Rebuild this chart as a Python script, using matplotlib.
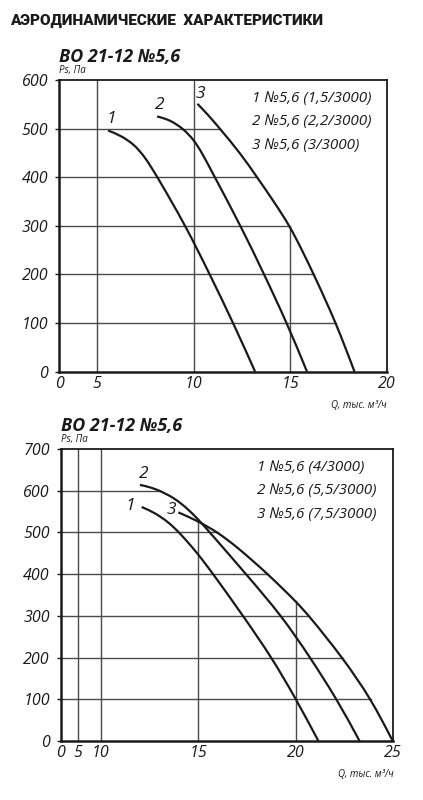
import numpy as np
import matplotlib
matplotlib.use("Agg")
import matplotlib.pyplot as plt
from matplotlib.path import Path
from matplotlib.patches import PathPatch

plt.rcParams['font.family'] = ['Open Sans', 'DejaVu Sans']

# --- data ------------------------------------------------------------------
# upper chart: Q (thousand m3/h) vs Ps (Pa)
top_q1 = [5.56, 6.2, 6.9, 7.5, 8.12, 9.58, 10.83, 12.05, 13.18]
top_p1 = [496, 486, 468, 440, 400, 300, 200, 100, 0]
top_q2 = [8.1, 8.76, 9.45, 10.0, 10.43, 11.09, 12.43, 13.65, 14.83, 15.87]
top_p2 = [525, 518, 500, 477, 450, 400, 300, 200, 100, 0]
top_q3 = [10.19, 10.75, 11.35, 12.4, 13.28, 14.15, 14.97, 15.61, 16.22, 17.38, 18.33]
top_p3 = [551, 528, 500, 450, 400, 350, 300, 250, 200, 100, 0]
top_motors = ["1,5", "2,2", "3"]

# lower chart
bot_q1 = [12.1, 12.78, 13.46, 14.03, 14.95, 15.77, 17.3, 18.77, 20.02, 21.16]
bot_p1 = [561, 547, 525, 500, 451, 400, 300, 200, 100, 0]
bot_q2 = [12.01, 12.78, 13.81, 14.49, 15.0, 15.6, 17.45, 19.28, 20.74, 22.11, 23.27]
bot_p2 = [614, 606, 582, 555, 531, 500, 400, 300, 200, 100, 0]
bot_q3 = [13.98, 15.0, 16.0, 16.97, 18.58, 20.06, 20.68, 22.4, 23.87, 24.97]
bot_p3 = [548, 527, 500, 466, 400, 332, 300, 200, 100, 0]
bot_motors = ["4", "5,5", "7,5"]

top_xticks = [0, 5, 10, 15, 20]
top_yticks = [0, 100, 200, 300, 400, 500, 600]
bot_xticks = [0, 5, 10, 15, 20, 25]
bot_yticks = [0, 100, 200, 300, 400, 500, 600, 700]

model = "ВО 21-12 №5,6"
ylabel = "Ps, Па"
xlabel = "Q, тыс. м³/ч"

ink = "#1a1a1a"
gridc = "#4a4a4a"


def piecewise_x(ax, kq, ku):
    # the drawing squeezes the low-flow part of the Q axis
    kq = np.asarray(kq, float)
    ku = np.asarray(ku, float)
    s0 = (ku[1] - ku[0]) / (kq[1] - kq[0])
    s1 = (ku[-1] - ku[-2]) / (kq[-1] - kq[-2])
    xq = np.concatenate([[kq[0] - 1000], kq, [kq[-1] + 1000]])
    xu = np.concatenate([[ku[0] - 1000 * s0], ku, [ku[-1] + 1000 * s1]])
    ax.set_xscale('function', functions=(lambda x: np.interp(x, xq, xu),
                                         lambda u: np.interp(u, xu, xq)))


def smooth_path(q, p):
    # clamped cubic B-spline on the read points, written as Bezier segments
    pts = np.column_stack([q, p]).astype(float)
    ext = np.vstack([pts[0], pts[0], pts, pts[-1], pts[-1]])
    verts = [pts[0]]
    codes = [Path.MOVETO]
    for j in range(len(ext) - 3):
        a, b, c, d = ext[j], ext[j + 1], ext[j + 2], ext[j + 3]
        verts += [(2 * b + c) / 3, (b + 2 * c) / 3, (b + 4 * c + d) / 6]
        codes += [Path.CURVE4] * 3
    return Path(verts, codes)


def draw_chart(ax, curves, motors, xticks, yticks, label_offsets):
    xmax, ymax = xticks[-1], yticks[-1]
    ax.set_xlim(0, xmax)
    ax.set_ylim(0, ymax)

    # grid lines stop where they meet the outermost curve
    starts = [q[0] for q, p in curves]
    for y in yticks[1:-1]:
        ends = [np.interp(y, p[::-1], q[::-1]) for q, p in curves if p[0] >= y]
        xe = max(ends) if ends else xmax
        ax.plot([0, xe], [y, y], color=gridc, lw=1.0, zorder=1)
    for x in xticks[1:-1]:
        if x < max(starts):
            ye = ymax
        else:
            ye = max(np.interp(x, q, p, left=0, right=0) for q, p in curves)
        ax.plot([x, x], [0, ye], color=gridc, lw=1.0, zorder=1)

    for i, (q, p) in enumerate(curves):
        ax.add_patch(PathPatch(smooth_path(q, p), fill=False, edgecolor=ink,
                               lw=1.6, zorder=3, capstyle='butt'))
        ax.annotate(str(i + 1), (q[0], p[0]), xytext=label_offsets[i],
                    textcoords='offset points', ha='center', va='center',
                    fontsize=12.5, style='italic', color=ink)

    ax.set_xticks(xticks)
    ax.set_yticks(yticks)
    ax.set_xticklabels([str(v) for v in xticks], fontsize=11.5, style='italic', color=ink)
    ax.set_yticklabels([str(v) for v in yticks], fontsize=11.5, style='italic', color=ink)
    ax.tick_params(axis='x', length=0, pad=3)
    ax.tick_params(axis='y', length=3, width=1.0, color=ink, pad=5)

    for side in ['left', 'bottom']:
        ax.spines[side].set_linewidth(1.8)
        ax.spines[side].set_color(ink)
    for side in ['top', 'right']:
        ax.spines[side].set_linewidth(1.3)
        ax.spines[side].set_color(ink)

    ax.annotate(model, (0, 1), xycoords='axes fraction', xytext=(0, 13),
                textcoords='offset points', ha='left', va='baseline',
                fontsize=13, weight='bold', style='italic', color=ink)
    ax.annotate(ylabel, (0, 1), xycoords='axes fraction', xytext=(0, 3),
                textcoords='offset points', ha='left', va='bottom',
                fontsize=7, style='italic', color=ink)
    ax.annotate(xlabel, (1, 0), xycoords='axes fraction', xytext=(0, -24),
                textcoords='offset points', ha='right', va='center',
                fontsize=7, style='italic', color=ink)

    for i, m in enumerate(motors):
        ax.annotate(f"{i + 1} №5,6 ({m}/3000)", (0.59, 1), xycoords='axes fraction',
                    xytext=(0, -13 - 17 * i), textcoords='offset points',
                    ha='left', va='center', fontsize=11, style='italic', color=ink)


fig = plt.figure(figsize=(4.23, 8.0), dpi=100)

fig.text(0.024, 0.969, "АЭРОДИНАМИЧЕСКИЕ  ХАРАКТЕРИСТИКИ", fontsize=11,
         weight='heavy', family=['Roboto', 'DejaVu Sans'], color=ink)

ax1 = fig.add_axes([0.1402, 0.5354, 0.774, 0.3646])
piecewise_x(ax1, top_xticks, [0, 0.394, 1.394, 2.394, 3.394])
draw_chart(ax1, [(top_q1, top_p1), (top_q2, top_p2), (top_q3, top_p3)],
           top_motors, top_xticks, top_yticks,
           [(2, 8), (2, 8), (2, 7)])

ax2 = fig.add_axes([0.1442, 0.07375, 0.7856, 0.365])
piecewise_x(ax2, bot_xticks, [0, 0.177, 0.407, 1.407, 2.407, 3.407])
draw_chart(ax2, [(bot_q1, bot_p1), (bot_q2, bot_p2), (bot_q3, bot_p3)],
           bot_motors, bot_xticks, bot_yticks,
           [(-8, 1), (3, 8), (-5, 2)])

fig.savefig("out.png", dpi=100)
